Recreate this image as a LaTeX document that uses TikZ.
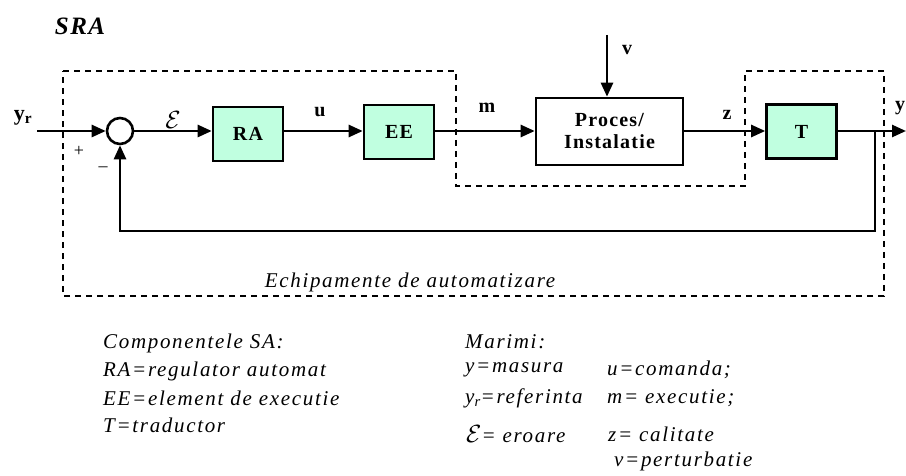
\documentclass[tikz,border=0pt]{standalone}
\usepackage{fontspec}
\setmainfont{Liberation Serif}
\newfontfamily\lblfont[LetterSpace=6]{Liberation Serif}
\newfontfamily\txtfont[LetterSpace=8]{Liberation Serif}
\usetikzlibrary{arrows.meta}
\definecolor{boxgreen}{RGB}{192,255,224}
\begin{document}
\begin{tikzpicture}[x=1pt,y=-1pt,
  conn/.style={line width=2.6pt},
  arr/.style={line width=2.6pt,-{Triangle[length=14pt,width=12pt]}},
  blk/.style={draw,line width=2.6pt,fill=boxgreen,minimum width=70pt,minimum height=54pt,inner sep=0pt,font=\fontsize{20}{22}\lblfont\bfseries},
  sig/.style={font=\fontsize{20}{22}\lblfont\bfseries,inner sep=0pt},
  note/.style={font=\fontsize{21}{24}\txtfont\itshape,anchor=west,inner sep=0pt},
  frame/.style={dashed,dash pattern=on 6pt off 5pt,line width=1.4pt}
]
\useasboundingbox (0,0) rectangle (906,476);
% dashed frame
\draw[frame] (63,71) -- (456,71) -- (456,186) -- (745,186) -- (745,71) -- (884,71) -- (884,296) -- (63,296) -- cycle;
% title
\node[font=\fontsize{25}{27}\lblfont\bfseries\itshape,inner sep=0pt] (sra) at (80,26) {SRA};
% blocks
\node[draw,circle,line width=2.6pt,minimum size=26pt,inner sep=0pt] (sum) at (120,131) {};
\node[blk] (ra) at (248,134) {RA};
\node[blk] (ee) at (399,132) {EE};
\node[blk,fill=white,minimum width=147pt,minimum height=67pt,align=center] (pr) at (609.5,131.5) {Proces/\\Instalatie};
\node[blk] (t) at (801.5,131.5) {T};
% coordinates
\coordinate (in) at (37,131);
\coordinate (br) at (875,131);
\coordinate (fb) at (875,231);
\coordinate (out) at (906,131);
\coordinate (vtop) at (607,35);
% connectors
\draw[arr] (in) -- (sum.west);
\draw[arr] (sum.east) -- (sum.east -| ra.west);
\draw[arr] (sum.east -| ra.east) -- (sum.east -| ee.west);
\draw[arr] (sum.east -| ee.east) -- (sum.east -| pr.west);
\draw[arr] (sum.east -| pr.east) -- (sum.east -| t.west);
\draw[arr] (sum.east -| t.east) -- (out);
\draw[arr] (vtop) -- (vtop |- pr.north);
\draw[arr] (br) -- (fb) -| (sum.south);
% signal labels
\node[font=\fontsize{22}{24}\selectfont\bfseries,inner sep=0pt] (yr) at (23,118) {y\textsubscript{r}};
\node[font=\fontsize{18}{20}\selectfont,inner sep=0pt] (plus) at (79,151) {+};
\node[font=\fontsize{18}{20}\selectfont,inner sep=0pt] (minus) at (103,169) {\textendash};
\node[inner sep=0pt,font=\fontsize{25}{27}\selectfont] (eps) at (173,120) {$\mathcal{E}$};
\node[sig] (u) at (320,112) {u};
\node[sig] (m) at (487,108) {m};
\node[sig] (z) at (727,115) {z};
\node[sig] (v) at (627,50) {v};
\node[sig] (y) at (900,108) {y};
\node[note,anchor=center] (echip) at (410,282) {Echipamente de automatizare};
% legend left
\node[note] (c1) at (103,343) {Componentele SA:};
\node[note] (c2) at (103,371) {RA=regulator automat};
\node[note] (c3) at (103,398) {EE=element de executie};
\node[note] (c4) at (103,425) {T=traductor};
% legend right
\node[note] (r1) at (465,342) {Marimi:};
\node[note] (r2) at (465,370) {y=masura};
\node[note] (r3) at (465,398) {y\textsubscript{r}=referinta};
\node[note] (r4) at (466,434) {{\fontsize{24}{26}\selectfont$\mathcal{E}$}= eroare};
\node[note] (s2) at (607,370) {u=comanda;};
\node[note] (s3) at (607,398) {m= executie;};
\node[note] (s4) at (608,434) {z= calitate};
\node[note] (s5) at (614,461) {v=perturbatie};
\end{tikzpicture}
\end{document}
